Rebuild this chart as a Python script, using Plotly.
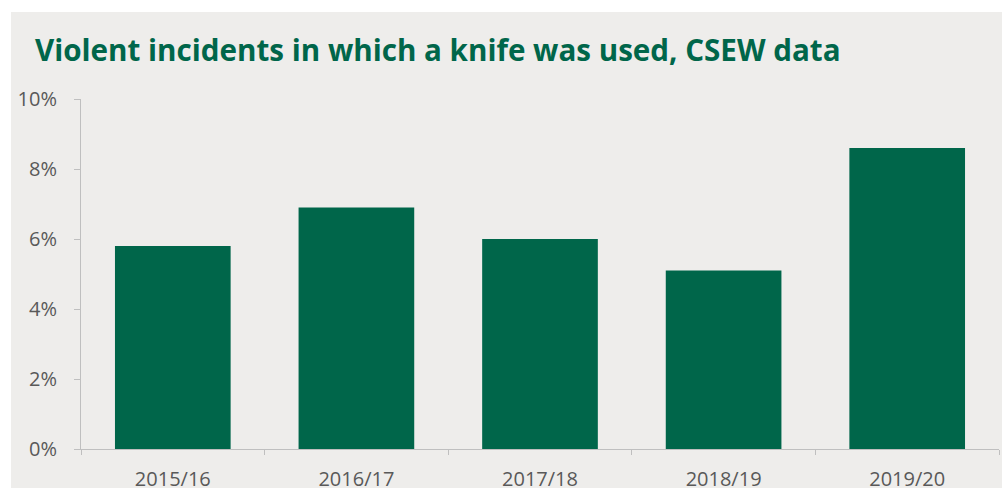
import plotly.graph_objects as go

# Share of violent incidents in which a knife was used (CSEW)
years = ["2015/16", "2016/17", "2017/18", "2018/19", "2019/20"]
knife_share = [5.8, 6.9, 6.0, 5.1, 8.6]
y_ticks = [0, 2, 4, 6, 8, 10]
y_tick_labels = ["0%", "2%", "4%", "6%", "8%", "10%"]

W, H = 1002, 488
L, R, T, B = 81, 3, 99, 39
plot_w = W - L - R
plot_h = H - T - B

BG = "#EEEDEB"
GREEN = "#00664A"
TEXT = "#595959"
AXIS = "#BFBFBF"

fig = go.Figure(
    go.Bar(
        x=years,
        y=knife_share,
        marker=dict(color=GREEN, line=dict(width=0)),
        width=0.63,
        hoverinfo="skip",
    )
)

# grey panel with a thin white edge along the top and left
fig.add_shape(
    type="rect",
    xref="paper", yref="paper",
    x0=(11 - L) / plot_w, x1=(W - L + 2) / plot_w,
    y0=-(B + 2) / plot_h, y1=(H - B - 12) / plot_h,
    fillcolor=BG, line=dict(width=0), layer="below",
)

fig.add_annotation(
    text="<b>Violent incidents in which a knife was used, CSEW data</b>",
    xref="paper", yref="paper",
    x=(33 - L) / plot_w, y=(H - B - 49) / plot_h,
    xanchor="left", yanchor="middle",
    showarrow=False,
    font=dict(family="Open Sans", size=29.6, color=GREEN),
)

fig.update_layout(
    width=W, height=H,
    margin=dict(l=L, r=R, t=T, b=B),
    paper_bgcolor="white",
    plot_bgcolor=BG,
    showlegend=False,
    bargap=0.37,
    font=dict(family="Open Sans", size=20, color=TEXT),
)

fig.update_xaxes(
    showline=True, linecolor=AXIS, linewidth=1,
    ticks="outside", tickson="boundaries", ticklen=5, tickcolor=AXIS,
    showgrid=False, zeroline=False, automargin=False,
    tickfont=dict(family="Open Sans", size=20, color=TEXT),
    ticklabelstandoff=12,
)

fig.update_yaxes(
    range=[0, 10],
    tickvals=y_ticks, ticktext=y_tick_labels,
    showline=True, linecolor=AXIS, linewidth=1,
    ticks="outside", ticklen=6, tickcolor=AXIS,
    showgrid=False, zeroline=False, automargin=False,
    tickfont=dict(family="Open Sans", size=20, color=TEXT),
    ticklabelstandoff=13,
)

fig.write_html("out.html")
